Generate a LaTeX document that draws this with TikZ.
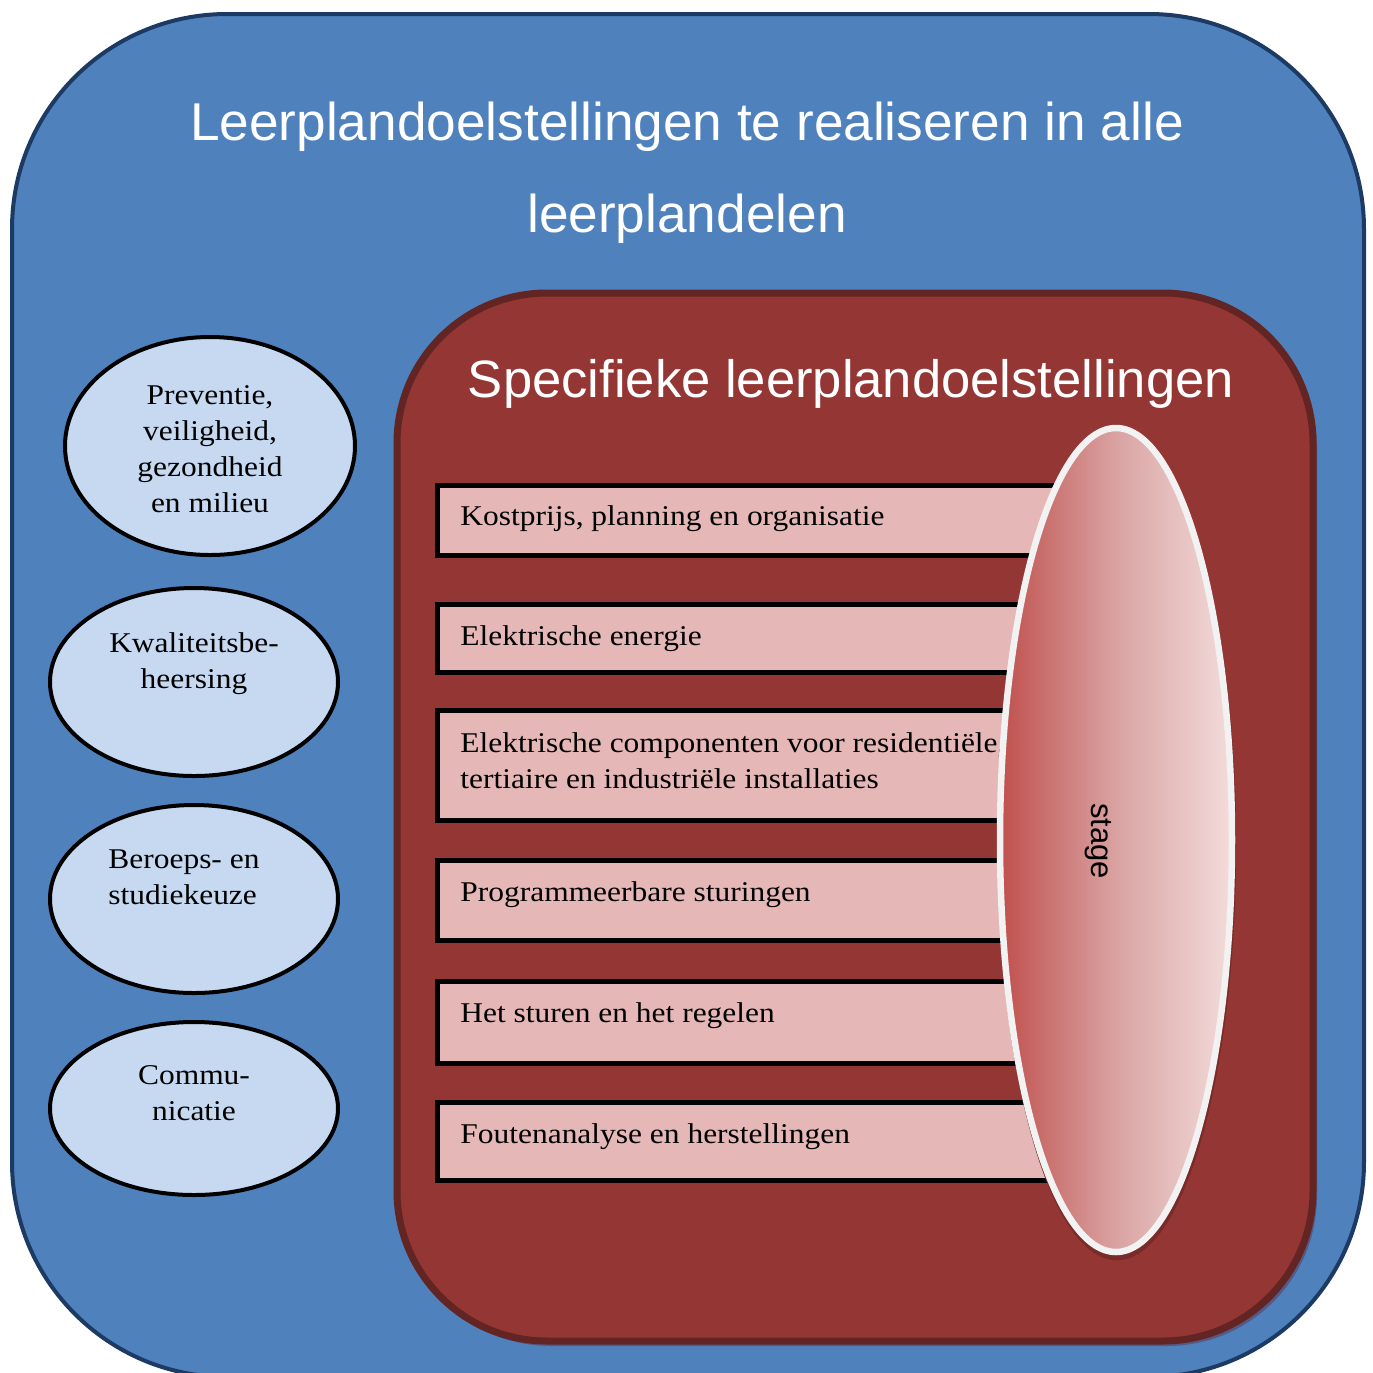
\documentclass[tikz,border=0pt]{standalone}
\usepackage{fontspec}
\setmainfont{Liberation Serif}[FakeStretch=1.1]
\newfontfamily\headfont{Liberation Sans}
\usetikzlibrary{shapes.geometric}

\definecolor{panelblue}{HTML}{4F81BD}
\definecolor{panelline}{HTML}{1C3A63}
\definecolor{redpanel}{HTML}{943634}
\definecolor{redline}{HTML}{632523}
\definecolor{redshade}{HTML}{555985}
\definecolor{pinkfill}{HTML}{E5B8B7}
\definecolor{bubblefill}{HTML}{C6D9F1}
\definecolor{stagedark}{HTML}{C0504D}
\definecolor{stagemid}{HTML}{D9A3A2}
\definecolor{stagelight}{HTML}{F2DCDB}
\definecolor{stageline}{HTML}{F2F2F2}
\definecolor{stageshade}{HTML}{7A2B29}

% stacked lines sharing one baseline grid; the node baseline is the first line
\newcommand\centerlines[1]{\vtop{\baselineskip=18pt\halign{\hfil##\hfil\cr#1\crcr}}}
\newcommand\leftlines[1]{\vtop{\baselineskip=18pt\halign{##\hfil\cr#1\crcr}}}

\begin{document}
\begin{tikzpicture}[x=0.5pt,y=-0.5pt,
  headtext/.style={text=white, inner sep=0pt, font=\headfont\fontsize{26.6}{30}\selectfont},
  bodytext/.style={text=black, inner sep=0pt, font=\fontsize{14.3}{18}\selectfont},
  pinkbar/.style={rectangle, draw=black, line width=2.5pt, fill=pinkfill,
    outer sep=0pt, inner sep=0pt, anchor=north west, minimum width=331.25pt},
  bubble/.style={ellipse, draw=black, line width=2pt, fill=bubblefill, inner sep=0pt}]

\useasboundingbox (0,0) rectangle (1373,1373);

% outer panel
\draw[line width=2pt, draw=panelline, fill=panelblue, rounded corners=107.5pt]
  (12,14) rectangle (1364,1377);
\node[headtext, anchor=base] (titleA) at (687,140) {Leerplandoelstellingen te realiseren in alle};
\node[headtext, anchor=base] (titleB) at (687,232) {leerplandelen};

% general objectives
\node[bubble, minimum width=145pt, minimum height=109pt] (prev) at (210,446) {};
\node[bodytext, anchor=base] (prevtxt) at (210,404)
  {\centerlines{Preventie,\cr veiligheid,\cr gezondheid\cr en milieu}};
\node[bubble, minimum width=144pt, minimum height=94pt] (kwal) at (194,682) {};
\node[bodytext, anchor=base] (kwaltxt) at (194,652) {\centerlines{Kwaliteitsbe-\cr heersing}};
\node[bubble, minimum width=144pt, minimum height=94pt] (ber) at (194,899) {};
\node[bodytext, anchor=base west] (bertxt) at (108,868) {\leftlines{Beroeps- en\cr studiekeuze}};
\node[bubble, minimum width=144pt, minimum height=86.5pt] (comm) at (194,1108.5) {};
\node[bodytext, anchor=base] (commtxt) at (194,1084) {\centerlines{Commu-\cr nicatie}};

% specific objectives panel
\fill[redshade, rounded corners=75pt] (401,298) rectangle (1317,1346);
\draw[line width=3.5pt, draw=redline, fill=redpanel, rounded corners=75pt]
  (397,293) rectangle (1313,1341);
\node[headtext, font=\headfont\fontsize{26.3}{30}\selectfont, anchor=base] (spec) at (851,397)
  {Specifieke leerplandoelstellingen};

\node[pinkbar, minimum height=35pt] (bar1) at (437.5,485.5) {};
\node[bodytext, anchor=base west] (bar1txt) at (460,525.5) {Kostprijs, planning en organisatie};
\node[pinkbar, minimum height=34pt] (bar2) at (437.5,604.5) {};
\node[bodytext, anchor=base west] (bar2txt) at (460,645) {Elektrische energie};
\node[pinkbar, minimum height=55pt] (bar3) at (437.5,710.5) {};
\node[bodytext, anchor=base west] (bar3txt) at (460,752)
  {\leftlines{Elektrische componenten voor residentiële,\cr tertiaire en industriële installaties}};
\node[pinkbar, minimum height=40pt] (bar4) at (437.5,860.5) {};
\node[bodytext, anchor=base west] (bar4txt) at (460,901.5) {Programmeerbare sturingen};
\node[pinkbar, minimum height=41pt] (bar5) at (437.5,981.5) {};
\node[bodytext, anchor=base west] (bar5txt) at (460,1022) {Het sturen en het regelen};
\node[pinkbar, minimum height=39pt] (bar6) at (437.5,1102.5) {};
\node[bodytext, anchor=base west] (bar6txt) at (460,1143) {Foutenanalyse en herstellingen};

% internship
\node[ellipse, fill=stageshade, draw=stageshade, line width=3.25pt,
  minimum width=116pt, minimum height=412pt] (stageshadow) at (1117,845) {};
\node[ellipse, draw=stageline, line width=3.25pt, left color=stagedark, right color=stagelight,
  middle color=stagemid, minimum width=116pt, minimum height=412pt] (stage) at (1116,840) {};
\node[rotate=-90, inner sep=0pt, font=\headfont\fontsize{15.5}{18}\selectfont] (stagetxt)
  at (1098,841) {stage};
\end{tikzpicture}
\end{document}
